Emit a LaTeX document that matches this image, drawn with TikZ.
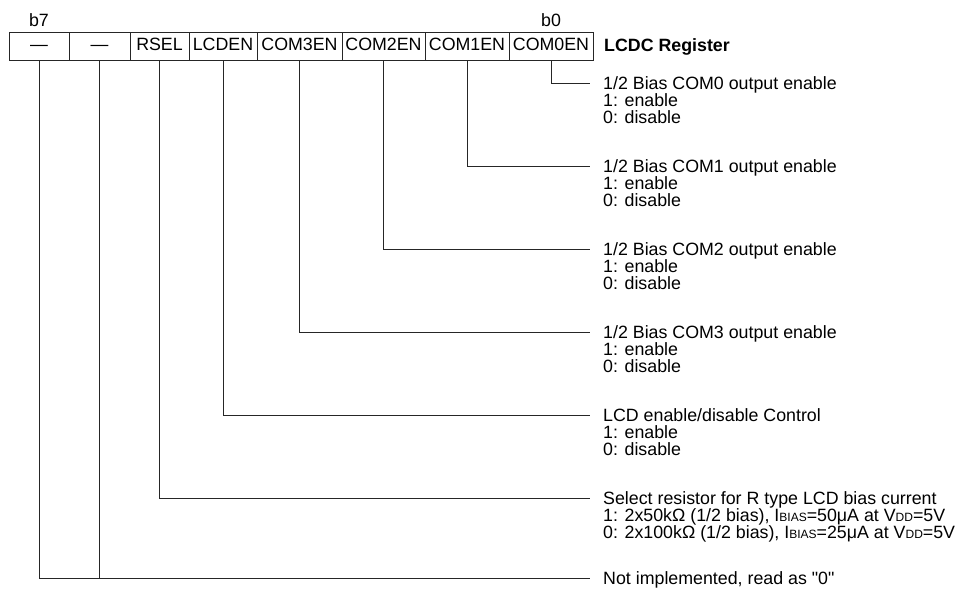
\documentclass[tikz,border=0pt]{standalone}
\usepackage{fontspec}
\setmainfont{Liberation Sans}
\usetikzlibrary{positioning}

\newcommand\lowtxt[1]{{\fontsize{12}{12}\selectfont #1}}

\begin{document}
\begin{tikzpicture}[
    x=1pt, y=-1pt,
    font=\fontsize{17.8}{17}\selectfont,
    bitcell/.style = {
        rectangle,
        draw=black!85,
        line width=1pt,
        minimum height=28pt,
        inner sep=0pt,
        outer sep=0pt,
        text height=12.5pt,
        text depth=3pt
    },
    bitno/.style = {
        inner sep=0pt,
        text depth=0pt
    },
    heading/.style = {
        inner sep=0pt,
        anchor=west,
        text height=12.7pt,
        text depth=0pt
    },
    values/.style = {
        inner sep=0pt,
        align=left,
        anchor=north west
    },
    wire/.style = {
        line width=1pt,
        draw=black!85
    }
]

\useasboundingbox (0,0) rectangle (961,589);

\node (b7) [bitcell, minimum width=60pt] at (39,46) {—};
\node (b6) [bitcell, minimum width=61pt, right=0pt of b7] {—};
\node (rsel) [bitcell, minimum width=59pt, right=0pt of b6] {RSEL};
\node (lcden) [bitcell, minimum width=68pt, right=0pt of rsel] {LCDEN};
\node (com3en) [bitcell, minimum width=85pt, right=0pt of lcden] {COM3EN};
\node (com2en) [bitcell, minimum width=83pt, right=0pt of com3en] {COM2EN};
\node (com1en) [bitcell, minimum width=84pt, right=0pt of com2en] {COM1EN};
\node (com0en) [bitcell, minimum width=84pt, right=0pt of com1en] {COM0EN};

\node (lb7) [bitno, above=5pt of b7] {b7};
\node (lb0) [bitno, above=5pt of com0en] {b0};
\node (regname) [heading, right=11pt of com0en, yshift=1pt] {\textbf{LCDC Register}};

\node (hd0) [heading] at (603,83) {1/2 Bias COM0 output enable};
\node (val0) [values, below=4.3pt of hd0.south west, anchor=north west] {1: enable\\0: disable};

\node (hd1) [heading] at (603,166) {1/2 Bias COM1 output enable};
\node (val1) [values, below=4.3pt of hd1.south west, anchor=north west] {1: enable\\0: disable};

\node (hd2) [heading] at (603,249) {1/2 Bias COM2 output enable};
\node (val2) [values, below=4.3pt of hd2.south west, anchor=north west] {1: enable\\0: disable};

\node (hd3) [heading] at (603,332) {1/2 Bias COM3 output enable};
\node (val3) [values, below=4.3pt of hd3.south west, anchor=north west] {1: enable\\0: disable};

\node (hd4) [heading] at (603,415) {LCD enable/disable Control};
\node (val4) [values, below=4.3pt of hd4.south west, anchor=north west] {1: enable\\0: disable};

\node (hd5) [heading] at (603,498) {Select resistor for R type LCD bias current};
\node (val5) [values, below=4.3pt of hd5.south west, anchor=north west] {1: 2x50kΩ (1/2 bias), I\lowtxt{BIAS}=50μA at V\lowtxt{DD}=5V\\0: 2x100kΩ (1/2 bias), I\lowtxt{BIAS}=25μA at V\lowtxt{DD}=5V};

\node (hd6) [heading] at (603,578) {Not implemented, read as \textquotedbl0\textquotedbl};

\draw [wire] (com0en.south) |- ([xshift=-13pt]hd0.west);
\draw [wire] (com1en.south) |- ([xshift=-13pt]hd1.west);
\draw [wire] (com2en.south) |- ([xshift=-13pt]hd2.west);
\draw [wire] (com3en.south) |- ([xshift=-13pt]hd3.west);
\draw [wire] (lcden.south) |- ([xshift=-13pt]hd4.west);
\draw [wire] (rsel.south) |- ([xshift=-13pt]hd5.west);
\draw [wire] (b6.south) |- ([xshift=-13pt]hd6.west);
\draw [wire] (b7.south) |- ([xshift=-13pt]hd6.west);

\end{tikzpicture}
\end{document}
